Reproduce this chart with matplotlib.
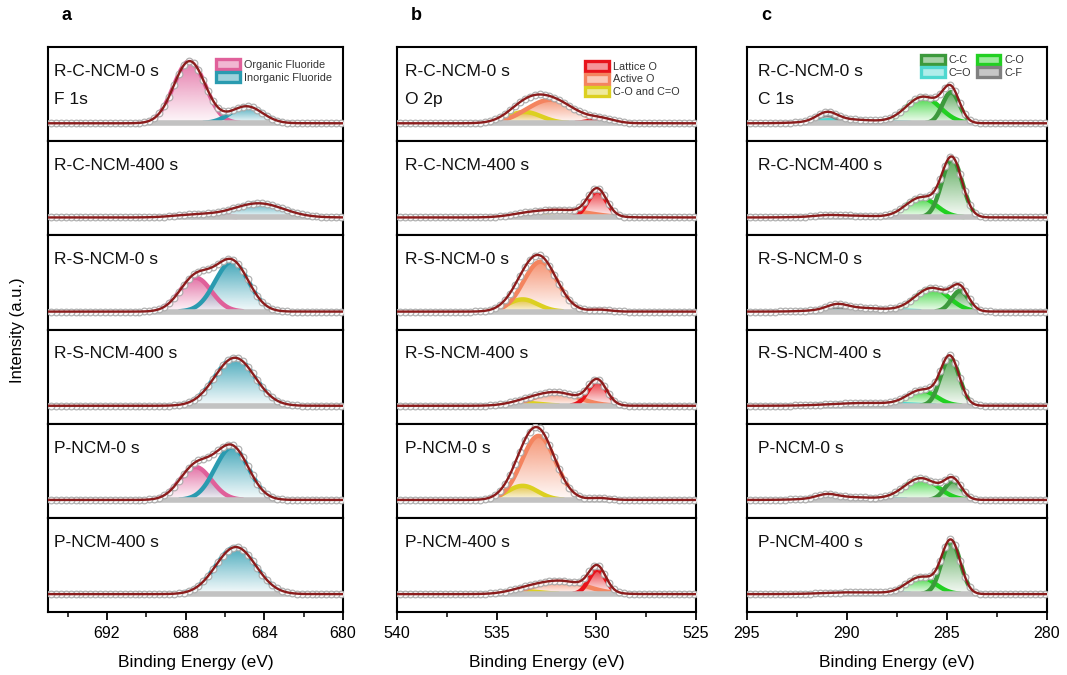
import numpy as np
import matplotlib
matplotlib.use('Agg')
import matplotlib.pyplot as plt
from matplotlib.patches import Patch
from matplotlib.colors import to_rgb

plt.rcParams['font.family'] = ['Liberation Sans', 'DejaVu Sans']

# ---------------- data ----------------
samples = ["R-C-NCM-0 s", "R-C-NCM-400 s", "R-S-NCM-0 s",
           "R-S-NCM-400 s", "P-NCM-0 s", "P-NCM-400 s"]

# F 1s components: centre (eV), height (fraction of panel), FWHM (eV)
f_org_center = [687.8, 687.5, 687.5, 687.5, 687.5, 687.5]
f_org_height = [0.66, 0.03, 0.36, 0.00, 0.35, 0.00]
f_org_fwhm = [1.9, 2.5, 1.9, 2.0, 1.9, 2.0]
f_inorg_center = [684.9, 684.3, 685.65, 685.5, 685.65, 685.45]
f_inorg_height = [0.18, 0.15, 0.53, 0.51, 0.56, 0.50]
f_inorg_fwhm = [1.9, 3.0, 2.0, 2.4, 2.0, 2.4]

# O 2p components
o_latt_center = [529.7, 529.95, 529.8, 529.95, 529.8, 529.95]
o_latt_height = [0.04, 0.28, 0.02, 0.26, 0.02, 0.26]
o_latt_fwhm = [1.5, 1.1, 1.2, 1.1, 1.2, 1.0]
o_act_center = [532.3, 531.8, 532.8, 532.0, 532.9, 531.8]
o_act_height = [0.25, 0.08, 0.53, 0.14, 0.68, 0.14]
o_act_fwhm = [2.8, 3.2, 2.0, 2.6, 2.0, 3.0]
o_co_center = [533.6, 533.6, 533.7, 533.6, 533.7, 533.6]
o_co_height = [0.12, 0.02, 0.13, 0.03, 0.15, 0.03]
o_co_fwhm = [2.0, 2.0, 1.8, 2.0, 1.8, 2.0]

# C 1s components
c_cc_center = [284.8, 284.75, 284.35, 284.85, 284.7, 284.8]
c_cc_height = [0.33, 0.62, 0.22, 0.51, 0.20, 0.56]
c_cc_fwhm = [1.0, 1.2, 1.0, 1.1, 1.0, 1.1]
c_co_center = [286.2, 286.3, 285.75, 286.25, 286.3, 286.3]
c_co_height = [0.28, 0.21, 0.25, 0.16, 0.23, 0.18]
c_co_fwhm = [2.0, 1.8, 2.0, 1.7, 2.0, 1.7]
c_cdo_center = [290.0, 290.0, 289.5, 289.0, 290.0, 289.5]
c_cdo_height = [0.04, 0.02, 0.04, 0.03, 0.03, 0.02]
c_cdo_fwhm = [3.5, 3.5, 3.5, 4.0, 3.5, 3.5]
c_cf_center = [291.0, 291.0, 290.5, 291.0, 291.0, 291.0]
c_cf_height = [0.09, 0.01, 0.05, 0.00, 0.04, 0.00]
c_cf_fwhm = [1.2, 1.2, 1.2, 1.2, 1.2, 1.2]

f_labels = ["Organic Fluoride", "Inorganic Fluoride"]
o_labels = ["Lattice O", "Active O", "C-O and C=O"]
c_labels = ["C-C", "C=O", "C-O", "C-F"]

f_ticks = [692, 688, 684, 680]
o_ticks = [540, 535, 530, 525]
c_ticks = [295, 290, 285, 280]

# ---------------- styling ----------------
col_org, col_inorg = '#e0609a', '#2a9bb0'
col_latt, col_act, col_co = '#e8141c', '#f4845f', '#dcd020'
col_cc, col_cO, col_cdo, col_cf = '#3c9a3c', '#22d022', '#4fd8d0', '#808080'

columns = [
    dict(letter='a', core='F 1s', xlim=(695, 680), ticks=f_ticks,
         minor=[694, 690, 686, 682], step=0.25,
         comps=[(f_org_center, f_org_height, f_org_fwhm, col_org),
                (f_inorg_center, f_inorg_height, f_inorg_fwhm, col_inorg)],
         legend=[(f_labels[0], col_org), (f_labels[1], col_inorg)], ncol=1,
         left=48, right=343, leg_anchor=(0.57, 0.87), tx=0.022),
    dict(letter='b', core='O 2p', xlim=(540, 525), ticks=o_ticks,
         minor=[537.5, 532.5, 527.5], step=0.25,
         comps=[(o_co_center, o_co_height, o_co_fwhm, col_co),
                (o_act_center, o_act_height, o_act_fwhm, col_act),
                (o_latt_center, o_latt_height, o_latt_fwhm, col_latt)],
         legend=[(o_labels[0], col_latt), (o_labels[1], col_act), (o_labels[2], col_co)],
         ncol=1, left=397, right=696, leg_anchor=(0.63, 0.85), tx=0.027),
    dict(letter='c', core='C 1s', xlim=(295, 280), ticks=c_ticks,
         minor=[292.5, 287.5, 282.5], step=0.25,
         comps=[(c_cdo_center, c_cdo_height, c_cdo_fwhm, col_cdo),
                (c_cf_center, c_cf_height, c_cf_fwhm, col_cf),
                (c_co_center, c_co_height, c_co_fwhm, col_cO),
                (c_cc_center, c_cc_height, c_cc_fwhm, col_cc)],
         legend=[(c_labels[0], col_cc), (c_labels[1], col_cdo),
                 (c_labels[2], col_cO), (c_labels[3], col_cf)],
         ncol=2, left=747, right=1047, leg_anchor=(0.58, 0.92), tx=0.035),
]

W, H = 1067, 675
fig = plt.figure(figsize=(W / 100, H / 100), dpi=100)

top_px, bot_px = 47, 612
ph = (bot_px - top_px) / 6.0


def gauss(e, c, h, w):
    return h * np.exp(-4 * np.log(2) * ((e - c) / w) ** 2)


def light(color, f=0.55):
    r = np.array(to_rgb(color))
    return tuple(r + (1 - r) * f)


def grad_fill(ax, e, y, color, z):
    hmax = y.max()
    if hmax <= 0:
        return
    poly = ax.fill_between(e, 0, y, facecolor='none', edgecolor='none', zorder=z)
    n = 128
    img = np.zeros((n, 2, 4))
    img[..., :3] = to_rgb(color)
    t = np.linspace(0, 1, n)[:, None]
    img[..., 3] = 0.05 + 0.82 * t ** 1.1
    im = ax.imshow(img, extent=(e.min(), e.max(), 0, hmax), origin='lower',
                   aspect='auto', interpolation='bilinear', zorder=z)
    im.set_clip_path(poly.get_paths()[0], transform=ax.transData)


for col in columns:
    x0 = col['left'] / W
    wfrac = (col['right'] - col['left']) / W
    lo, hi = min(col['xlim']), max(col['xlim'])
    e = np.arange(lo, hi + 1e-9, 0.05)
    ed = np.arange(lo + 0.1, hi, col['step'])
    for i in range(6):
        yb = 1 - (top_px + (i + 1) * ph) / H
        ax = fig.add_axes([x0, yb, wfrac, ph / H])
        total = np.zeros_like(e)
        total_d = np.zeros_like(ed)
        for k, (cc, hh, ww, color) in enumerate(col['comps']):
            y = gauss(e, cc[i], hh[i], ww[i])
            total += y
            total_d += gauss(ed, cc[i], hh[i], ww[i])
            if hh[i] > 0:
                grad_fill(ax, e, y, color, 2 + 0.01 * k)
                yl = np.where(y > 0.004, y, np.nan)
                ax.plot(e, yl, color=color, lw=3.2, zorder=3 + 0.01 * k,
                        solid_capstyle='round')
        ax.plot(e, np.zeros_like(e), color='#c2c2c2', lw=4, zorder=4)
        ax.plot(ed, total_d, 'o', ms=4.8, mfc='white', mec='#a9a9a9', mew=0.9,
                alpha=0.9, zorder=5)
        ax.plot(e, total, color='#8b1c1c', lw=1.7, zorder=6)

        ax.set_xlim(*col['xlim'])
        ax.set_ylim(-0.19, 0.81)
        ax.set_yticks([])
        for s in ax.spines.values():
            s.set_linewidth(1.5)
        ax.text(col['tx'], 0.74, samples[i], transform=ax.transAxes,
                fontsize=12.5, va='center', ha='left', color='#111111')
        if i == 0:
            ax.text(col['tx'], 0.44, col['core'], transform=ax.transAxes,
                    fontsize=12.5, va='center', ha='left', color='#111111')
            handles = [Patch(facecolor=light(c), edgecolor=c, linewidth=2.4, label=l)
                       for l, c in col['legend']]
            leg = ax.legend(handles=handles, loc='upper left', bbox_to_anchor=col['leg_anchor'],
                            frameon=False, fontsize=7.8, ncol=col['ncol'],
                            handlelength=2.2, handleheight=1.0, labelspacing=0.2,
                            handletextpad=0.35, columnspacing=0.5, borderpad=0,
                            borderaxespad=0)
            for t in leg.get_texts():
                t.set_color('#333333')
        if i == 5:
            ax.set_xticks(col['ticks'])
            ax.set_xticks(col['minor'], minor=True)
            ax.tick_params(axis='x', which='major', direction='out', length=6, width=1.3,
                           labelsize=11.5, pad=4)
            ax.tick_params(axis='x', which='minor', direction='out', length=3.5, width=1.1)
            ax.set_xlabel('Binding Energy (eV)', fontsize=12.5, labelpad=10)
        else:
            ax.set_xticks([])
    fig.text((col['left'] + 14) / W, 1 - 16 / H, col['letter'], fontsize=13,
             fontweight='bold', ha='left', va='center')

fig.text(18 / W, 1 - 330 / H, 'Intensity (a.u.)', rotation=90, fontsize=12,
         ha='center', va='center')

fig.savefig('out.png', dpi=100)
